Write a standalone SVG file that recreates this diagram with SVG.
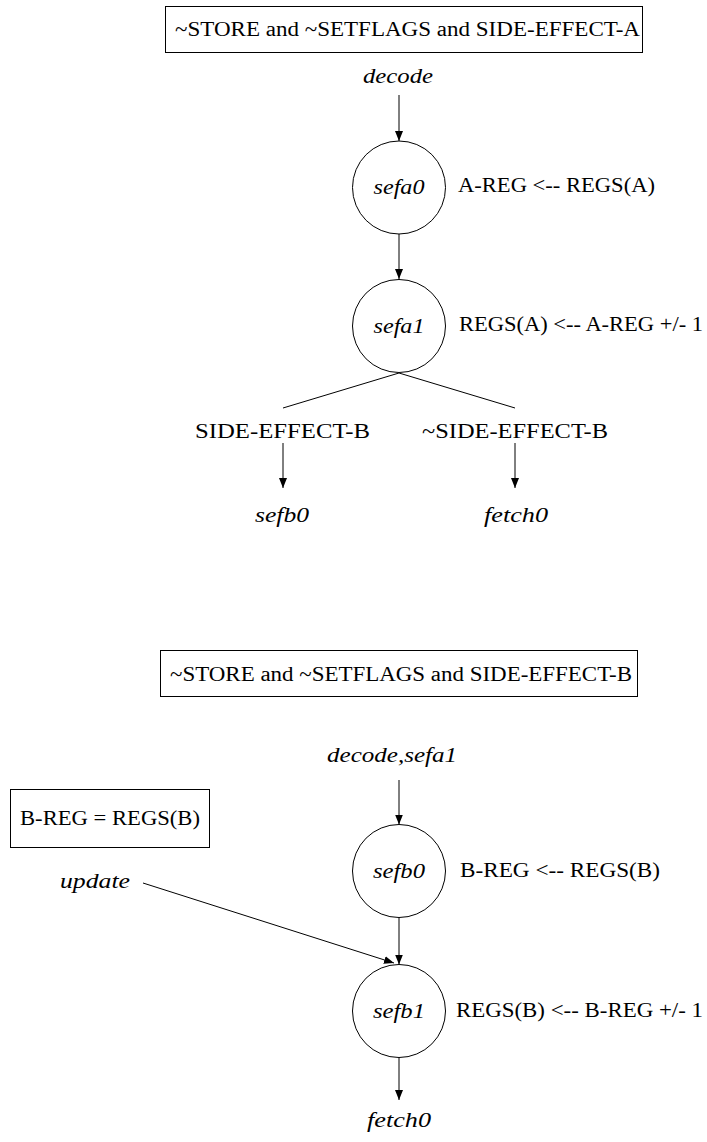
<svg xmlns="http://www.w3.org/2000/svg" width="707" height="1142" viewBox="0 0 707 1142" font-family="Liberation Serif, serif">
<style>
  .r { font-family: "Liberation Serif", serif; font-size: 20px; }
  .i { font-family: "Liberation Serif", serif; font-size: 21px; font-style: italic; }
  .box { fill: #fff; stroke: #000; stroke-width: 1; }
  .node { fill: #fff; stroke: #000; stroke-width: 1; }
  .edge { fill: none; stroke: #000; stroke-width: 1; }
  .arrow { fill: none; stroke: #000; stroke-width: 1; marker-end: url(#ah); }
</style>
<defs>
  <marker id="ah" viewBox="0 0 10 8" refX="10" refY="4" markerWidth="10" markerHeight="8" markerUnits="userSpaceOnUse" orient="auto">
    <path d="M0,0 L10,4 L0,8 z" fill="#000"/>
  </marker>
</defs>
<rect width="707" height="1142" fill="#fff"/>

<g id="connectors">
  <line class="arrow" x1="399" y1="95" x2="399" y2="141"/>
  <line class="arrow" x1="399" y1="234" x2="399" y2="279"/>
  <line class="edge" x1="399" y1="373" x2="283" y2="408"/>
  <line class="edge" x1="399" y1="373" x2="515" y2="408"/>
  <line class="arrow" x1="283" y1="443" x2="283" y2="488"/>
  <line class="arrow" x1="515" y1="443" x2="515" y2="488"/>
  <line class="arrow" x1="399" y1="780" x2="399" y2="824.5"/>
  <line class="arrow" x1="399" y1="917.5" x2="399" y2="964.5"/>
  <line class="arrow" x1="143" y1="883" x2="394" y2="963"/>
  <line class="arrow" x1="399" y1="1057.5" x2="399" y2="1100"/>
</g>

<g id="condA">
  <rect class="box" x="165.5" y="6.5" width="477" height="46"/>
  <text class="r" font-family="Liberation Serif, serif" x="175" y="36" textLength="465" lengthAdjust="spacingAndGlyphs">~STORE and ~SETFLAGS and SIDE-EFFECT-A</text>
</g>
<g id="decodeA">
  <text class="i" x="363" y="83" textLength="70" lengthAdjust="spacingAndGlyphs">decode</text>
</g>
<g id="sefa0">
  <circle class="node" cx="399" cy="187.5" r="46.5"/>
  <text class="i" x="399" y="194" text-anchor="middle" textLength="51" lengthAdjust="spacingAndGlyphs">sefa0</text>
  <text class="r" x="458" y="192" textLength="197" lengthAdjust="spacingAndGlyphs">A-REG &lt;-- REGS(A)</text>
</g>
<g id="sefa1">
  <circle class="node" cx="399" cy="326" r="46.5"/>
  <text class="i" x="399" y="332.5" text-anchor="middle" textLength="51" lengthAdjust="spacingAndGlyphs">sefa1</text>
  <text class="r" x="459" y="331" textLength="244" lengthAdjust="spacingAndGlyphs">REGS(A) &lt;-- A-REG +/- 1</text>
</g>
<g id="condSEB">
  <text class="r" x="195" y="438" textLength="175" lengthAdjust="spacingAndGlyphs">SIDE-EFFECT-B</text>
</g>
<g id="condNotSEB">
  <text class="r" x="422" y="438" textLength="186" lengthAdjust="spacingAndGlyphs">~SIDE-EFFECT-B</text>
</g>
<g id="sefb0-ref">
  <text class="i" x="282" y="522" text-anchor="middle" textLength="54" lengthAdjust="spacingAndGlyphs">sefb0</text>
</g>
<g id="fetch0-refA">
  <text class="i" x="516" y="522" text-anchor="middle" textLength="64" lengthAdjust="spacingAndGlyphs">fetch0</text>
</g>

<g id="condB">
  <rect class="box" x="160.5" y="650.5" width="477" height="46"/>
  <text class="r" x="170" y="681" textLength="462" lengthAdjust="spacingAndGlyphs">~STORE and ~SETFLAGS and SIDE-EFFECT-B</text>
</g>
<g id="decodeB">
  <text class="i" x="392" y="762" text-anchor="middle" textLength="130" lengthAdjust="spacingAndGlyphs">decode,sefa1</text>
</g>
<g id="assertB">
  <rect class="box" x="10.5" y="789.5" width="199" height="58"/>
  <text class="r" x="20" y="825" textLength="180" lengthAdjust="spacingAndGlyphs">B-REG = REGS(B)</text>
</g>
<g id="update">
  <text class="i" x="60" y="888" textLength="70" lengthAdjust="spacingAndGlyphs">update</text>
</g>
<g id="sefb0">
  <circle class="node" cx="399" cy="871" r="46.5"/>
  <text class="i" x="399" y="878" text-anchor="middle" textLength="52" lengthAdjust="spacingAndGlyphs">sefb0</text>
  <text class="r" x="460" y="877" textLength="200" lengthAdjust="spacingAndGlyphs">B-REG &lt;-- REGS(B)</text>
</g>
<g id="sefb1">
  <circle class="node" cx="399" cy="1011" r="46.5"/>
  <text class="i" x="399" y="1018" text-anchor="middle" textLength="52" lengthAdjust="spacingAndGlyphs">sefb1</text>
  <text class="r" x="456" y="1017" textLength="247" lengthAdjust="spacingAndGlyphs">REGS(B) &lt;-- B-REG +/- 1</text>
</g>
<g id="fetch0-refB">
  <text class="i" x="399" y="1127" text-anchor="middle" textLength="64" lengthAdjust="spacingAndGlyphs">fetch0</text>
</g>
</svg>
